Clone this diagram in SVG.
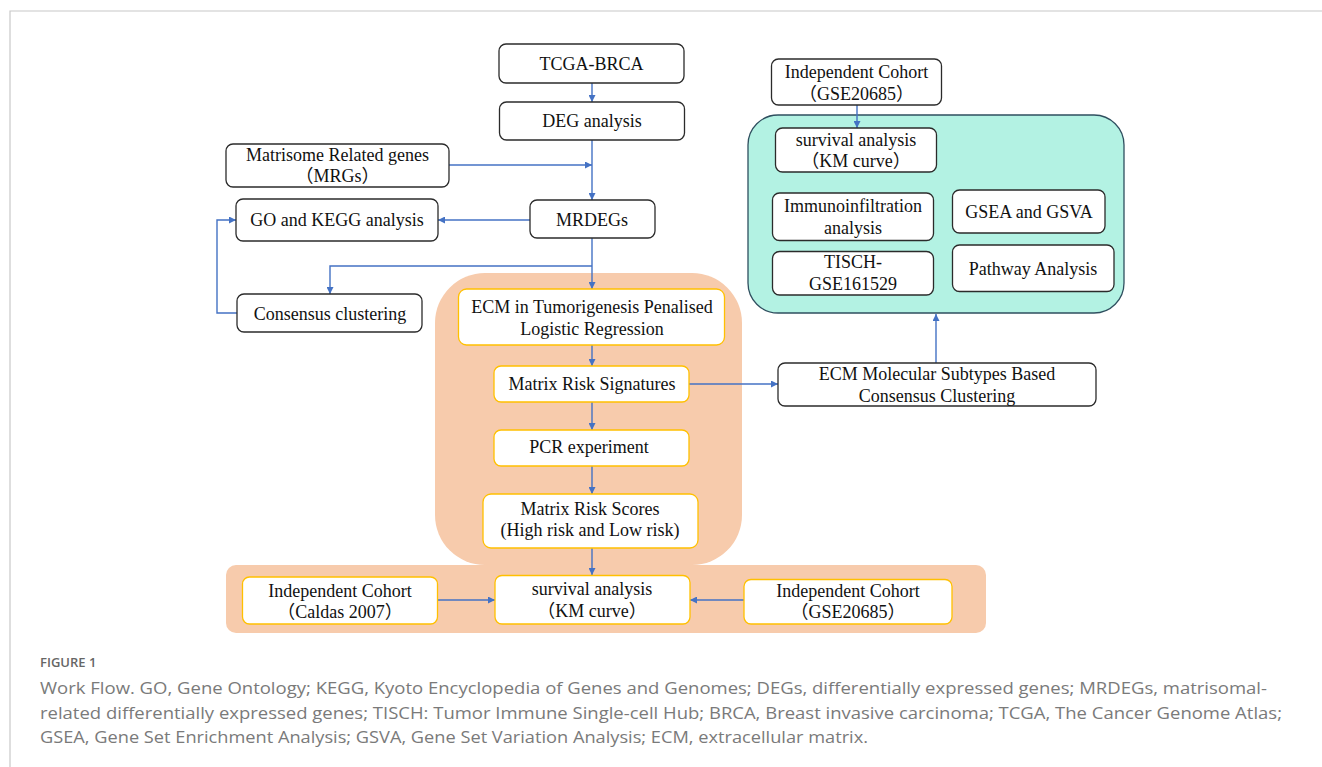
<svg xmlns="http://www.w3.org/2000/svg" width="1322" height="767" viewBox="0 0 1322 767">
<style>
.bx{fill:#fff;stroke:#2b2b2b;stroke-width:1.3}
.ob{fill:#fff;stroke:#FFC000;stroke-width:1.3}
.t{font-family:"Liberation Serif","Noto Sans CJK SC",serif;font-size:18px;fill:#111;text-anchor:middle}
.c{stroke:#4472C4;stroke-width:1.4;fill:none;marker-end:url(#ah)}
.cap{font-family:"Open Sans","Liberation Sans",sans-serif;font-size:16.5px;fill:#7a7a7a}
</style>
<defs>
<marker id="ah" viewBox="0 0 10 10" refX="10" refY="5" markerWidth="7" markerHeight="7" markerUnits="userSpaceOnUse" orient="auto">
<path d="M0,0 L10,5 L0,10 z" fill="#4472C4"/>
</marker>
</defs>
<rect width="1322" height="767" fill="#fff"/>
<path d="M10,767 V11 H1322" fill="none" stroke="#c8c8c8" stroke-width="1.2"/>

<g id="regions">
<rect id="orange-main" x="435" y="273" width="307" height="292" rx="50" fill="#F7CBAC"/>
<rect id="orange-band" x="226" y="565" width="760" height="68" rx="10" fill="#F7CBAC"/>
<rect id="teal-panel" x="748" y="115" width="376" height="198" rx="30" fill="#B3F2E3" stroke="#2F4F5F" stroke-width="1.3"/>
</g>

<g id="connectors">
<line class="c" x1="592" y1="83" x2="592" y2="102"/>
<line class="c" x1="592" y1="140" x2="592" y2="200"/>
<line class="c" x1="449" y1="165" x2="592" y2="165"/>
<line class="c" x1="530" y1="220" x2="438" y2="220"/>
<line class="c" x1="592" y1="238" x2="592" y2="289"/>
<polyline class="c" points="592,266 330,266 330,294"/>
<polyline class="c" points="237,313 217,313 217,220 236,220"/>
<line class="c" x1="592" y1="345" x2="592" y2="366"/>
<line class="c" x1="592" y1="402" x2="592" y2="430"/>
<line class="c" x1="592" y1="466" x2="592" y2="494"/>
<line class="c" x1="592" y1="548" x2="592" y2="575"/>
<line class="c" x1="437" y1="600" x2="495" y2="600"/>
<line class="c" x1="744" y1="600" x2="690" y2="600"/>
<line class="c" x1="689" y1="384" x2="778" y2="384"/>
<line class="c" x1="936" y1="363" x2="936" y2="314"/>
<line class="c" x1="857" y1="105" x2="857" y2="128"/>
</g>

<g id="n-tcga"><rect class="bx" x="499" y="44" width="185" height="39" rx="7"/><text class="t" x="591.5" y="70">TCGA-BRCA</text></g>
<g id="n-deg"><rect class="bx" x="499.5" y="102" width="185" height="38" rx="7"/><text class="t" x="592" y="127">DEG analysis</text></g>
<g id="n-mrg"><rect class="bx" x="226" y="144" width="223" height="43" rx="7"/><text class="t" x="337.5" y="161">Matrisome Related genes</text><text class="t" x="337.5" y="182">（MRGs）</text></g>
<g id="n-go"><rect class="bx" x="236" y="199" width="202" height="42" rx="7"/><text class="t" x="337" y="226">GO and KEGG analysis</text></g>
<g id="n-mrdegs"><rect class="bx" x="530" y="200" width="125" height="38" rx="7"/><text class="t" x="592" y="226">MRDEGs</text></g>
<g id="n-consensus"><rect class="bx" x="237" y="294" width="185" height="38" rx="7"/><text class="t" x="330" y="320">Consensus clustering</text></g>

<g id="n-penalised"><rect class="ob" x="458.5" y="289" width="266" height="56" rx="8"/><text class="t" x="592" y="313">ECM in Tumorigenesis Penalised</text><text class="t" x="592" y="335">Logistic Regression</text></g>
<g id="n-signatures"><rect class="ob" x="494" y="366" width="195" height="36" rx="7"/><text class="t" x="592" y="390">Matrix Risk Signatures</text></g>
<g id="n-pcr"><rect class="ob" x="494" y="430" width="195" height="36" rx="7"/><text class="t" x="589" y="453">PCR experiment</text></g>
<g id="n-scores"><rect class="ob" x="483" y="494" width="215" height="54" rx="8"/><text class="t" x="590" y="515">Matrix Risk Scores</text><text class="t" x="590" y="536">(High risk and Low risk)</text></g>

<g id="n-ecm-subtypes"><rect class="bx" x="778" y="363" width="318" height="43" rx="7"/><text class="t" x="937" y="380">ECM Molecular Subtypes Based</text><text class="t" x="937" y="402">Consensus Clustering</text></g>

<g id="n-cohort-top"><rect class="bx" x="771.5" y="59" width="170" height="46" rx="7"/><text class="t" x="856.5" y="78">Independent Cohort</text><text class="t" x="856.5" y="100">（GSE20685）</text></g>
<g id="n-surv-teal"><rect class="bx" x="775.5" y="128" width="161" height="44" rx="7"/><text class="t" x="856" y="146">survival analysis</text><text class="t" x="856" y="167">（KM curve）</text></g>
<g id="n-immuno"><rect class="bx" x="772.5" y="193" width="161" height="47.5" rx="7"/><text class="t" x="853" y="212">Immunoinfiltration</text><text class="t" x="853" y="234">analysis</text></g>
<g id="n-gsea"><rect class="bx" x="952.5" y="190" width="152.5" height="43" rx="7"/><text class="t" x="1029" y="218">GSEA and GSVA</text></g>
<g id="n-tisch"><rect class="bx" x="772.5" y="251.5" width="161" height="43.5" rx="7"/><text class="t" x="853" y="268">TISCH-</text><text class="t" x="853" y="290">GSE161529</text></g>
<g id="n-pathway"><rect class="bx" x="952.5" y="245" width="161.5" height="46.5" rx="7"/><text class="t" x="1033" y="275">Pathway Analysis</text></g>

<g id="n-caldas"><rect class="ob" x="242.5" y="577" width="195" height="47" rx="7"/><text class="t" x="340" y="597">Independent Cohort</text><text class="t" x="340" y="618">（Caldas 2007）</text></g>
<g id="n-surv-bottom"><rect class="ob" x="495" y="575.5" width="195" height="48.5" rx="7"/><text class="t" x="592" y="595">survival analysis</text><text class="t" x="592" y="617">（KM curve）</text></g>
<g id="n-gse-bottom"><rect class="ob" x="744" y="579.5" width="208" height="44.5" rx="7"/><text class="t" x="848" y="597">Independent Cohort</text><text class="t" x="848" y="618">（GSE20685）</text></g>

<g id="caption">
<text x="40" y="667" style="font-family:'Open Sans','Liberation Sans',sans-serif;font-size:13px;font-weight:600;fill:#666">FIGURE 1</text>
<text class="cap" x="40" y="694" textLength="1227" lengthAdjust="spacingAndGlyphs">Work Flow. GO, Gene Ontology; KEGG, Kyoto Encyclopedia of Genes and Genomes; DEGs, differentially expressed genes; MRDEGs, matrisomal-</text>
<text class="cap" x="40" y="719" textLength="1242" lengthAdjust="spacingAndGlyphs">related differentially expressed genes; TISCH: Tumor Immune Single-cell Hub; BRCA, Breast invasive carcinoma; TCGA, The Cancer Genome Atlas;</text>
<text class="cap" x="40" y="743" textLength="828" lengthAdjust="spacingAndGlyphs">GSEA, Gene Set Enrichment Analysis; GSVA, Gene Set Variation Analysis; ECM, extracellular matrix.</text>
</g>
</svg>
